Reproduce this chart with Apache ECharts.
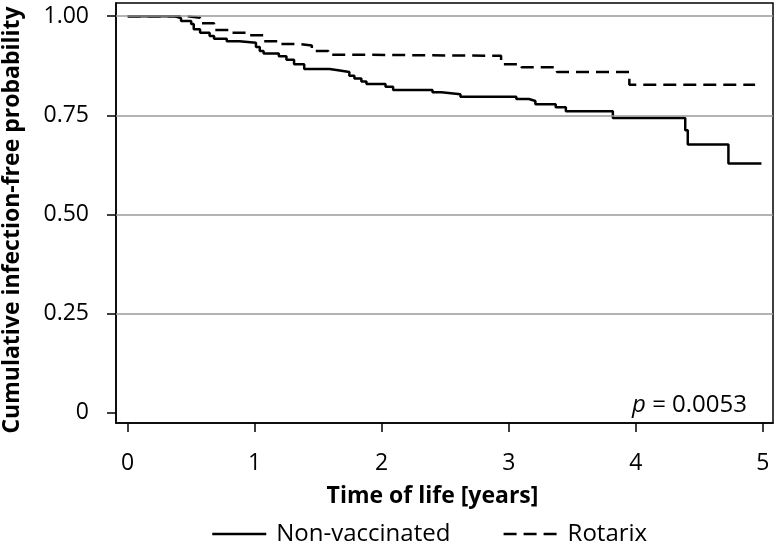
<!DOCTYPE html>
<html>
<head>
<meta charset="utf-8">
<script src="https://cdn.jsdelivr.net/npm/echarts@6/dist/echarts.min.js"></script>
<style>html,body{margin:0;padding:0;background:#fff}#c{width:775px;height:545px}</style>
</head>
<body>
<div id="c"></div>
<script>
// Kaplan–Meier step data
const nonVaccinatedTime = [0, 0.37, 0.42, 0.50, 0.52, 0.57, 0.645, 0.68, 0.78, 0.88, 1.01, 1.04, 1.07, 1.19, 1.25, 1.31, 1.39, 1.59, 1.67, 1.745, 1.785, 1.84, 1.88, 2.03, 2.09, 2.40, 2.47, 2.62, 3.06, 3.16, 3.21, 3.37, 3.45, 3.82, 4.39, 4.41, 4.73, 4.99];
const nonVaccinatedSurv = [1, 0.995, 0.988, 0.98, 0.967, 0.958, 0.95, 0.943, 0.937, 0.933, 0.922, 0.912, 0.906, 0.899, 0.89, 0.879, 0.867, 0.863, 0.859, 0.85, 0.843, 0.835, 0.829, 0.822, 0.814, 0.808, 0.803, 0.797, 0.791, 0.786, 0.778, 0.770, 0.760, 0.743, 0.712, 0.676, 0.628, 0.628];
const rotarixTime = [0, 0.46, 0.57, 0.68, 0.80, 0.93, 1.07, 1.18, 1.35, 1.45, 1.58, 1.70, 2.94, 3.10, 3.38, 3.95, 4.94];
const rotarixSurv = [1, 0.996, 0.982, 0.965, 0.958, 0.952, 0.937, 0.930, 0.926, 0.912, 0.903, 0.900, 0.879, 0.871, 0.859, 0.827, 0.827];
const xTicks = [0, 1, 2, 3, 4, 5];
const yTicks = [0, 0.25, 0.5, 0.75, 1];
const gridLines = [0.25, 0.5, 0.75, 1];
const seriesNames = ['Non-vaccinated', 'Rotarix'];
const xTitle = 'Time of life [years]';
const yTitle = 'Cumulative infection-free probability';
const pText = '0.0053';

const zip = (a, b) => a.map((v, i) => [v, b[i]]);
const FONT = 'Open Sans';
const chart = echarts.init(document.getElementById('c'), null, {renderer: 'canvas'});
chart.setOption({
  animation: false,
  backgroundColor: '#fff',
  grid: {left: 116, right: 2, top: 3, bottom: 122, show: true, borderColor: '#000', borderWidth: 1.5,
    backgroundColor: 'transparent', containLabel: false, outerBoundsMode: 'none'},
  xAxis: {
    type: 'value', min: -0.092, max: 5.081,
    name: xTitle, nameLocation: 'middle', nameGap: 62,
    nameTextStyle: {fontFamily: FONT, fontWeight: 'bold', fontSize: 23, color: '#000', padding: [0, 24, 0, 0]},
    axisLine: {show: true, onZero: false, lineStyle: {color: '#000', width: 1.5}},
    axisTick: {show: true, length: 9, lineStyle: {color: '#000', width: 1.5}, customValues: xTicks},
    axisLabel: {customValues: xTicks, margin: 29, fontFamily: FONT, fontSize: 23, color: '#000'},
    splitLine: {show: false}
  },
  yAxis: {
    type: 'value', min: -0.0265, max: 1.0333,
    name: yTitle, nameLocation: 'middle', nameGap: 92,
    nameTextStyle: {fontFamily: FONT, fontWeight: 'bold', fontSize: 23, color: '#000', padding: [0, 14, 0, 0]},
    axisLine: {show: true, onZero: false, lineStyle: {color: '#000', width: 1.5}},
    axisTick: {show: true, length: 9, lineStyle: {color: '#000', width: 1.5}, customValues: yTicks},
    axisLabel: {customValues: yTicks, margin: 27, fontFamily: FONT, fontSize: 23, color: '#000',
      formatter: v => v === 0 ? '0' : v.toFixed(2)},
    splitLine: {show: false}
  },
  legend: {
    data: seriesNames, top: 517, left: 206, itemWidth: 54, itemHeight: 10, itemGap: 52,
    itemStyle: {opacity: 0},
    lineStyle: {width: 2.5, color: '#000'},
    textStyle: {fontFamily: FONT, fontSize: 24, color: '#000', padding: [0, 0, 0, 5]}
  },
  graphic: [{
    type: 'text', x: 747, y: 405,
    style: {text: '{i|p} = ' + pText, align: 'right', verticalAlign: 'middle',
      font: '24px "Open Sans"', fill: '#000',
      rich: {i: {fontStyle: 'italic', fontFamily: FONT, fontSize: 24, fill: '#000'}}}
  }],
  series: [
    {
      type: 'line', name: '__grid', data: [], silent: true, z: 1,
      markLine: {silent: true, symbol: 'none', label: {show: false},
        lineStyle: {color: '#9a9a9a', width: 1.5, type: 'solid'},
        data: gridLines.map(v => ({yAxis: v}))}
    },
    {
      type: 'line', name: seriesNames[0], step: 'end', symbol: 'none', z: 3,
      data: zip(nonVaccinatedTime, nonVaccinatedSurv),
      lineStyle: {color: '#000', width: 2.5, type: 'solid'}, itemStyle: {color: '#000'}
    },
    {
      type: 'line', name: seriesNames[1], step: 'end', symbol: 'none', z: 3,
      data: zip(rotarixTime, rotarixSurv),
      lineStyle: {color: '#000', width: 2.5, type: [13, 7]}, itemStyle: {color: '#000'}
    }
  ]
});
</script>
</body>
</html>
